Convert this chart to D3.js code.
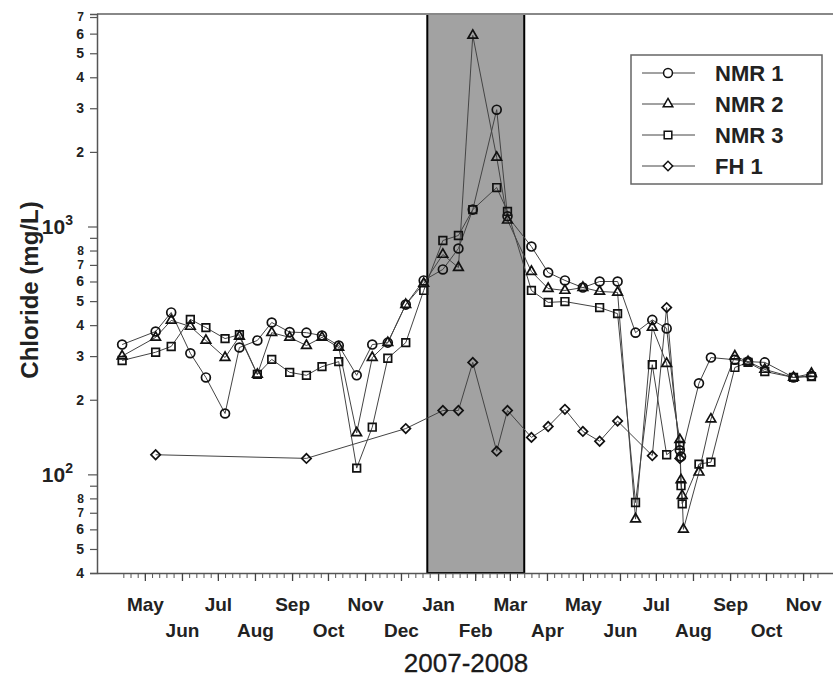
<!DOCTYPE html>
<html>
<head>
<meta charset="utf-8">
<script src="https://cdn.jsdelivr.net/npm/d3@7"></script>
<style>
  body { margin: 0; background: #fff; }
  svg { display: block; font-family: Arial, "Liberation Sans", sans-serif; }
</style>
</head>
<body>
<div id="chart"></div>
<script>
// Values (date, chloride mg/L)
const nmr1 = [
  ["2007-04-12", 334], ["2007-05-10", 377], ["2007-05-23", 450], ["2007-06-08", 308],
  ["2007-06-21", 246], ["2007-07-07", 176], ["2007-07-19", 325], ["2007-08-03", 347],
  ["2007-08-15", 410], ["2007-08-30", 375], ["2007-09-13", 373], ["2007-09-26", 363],
  ["2007-10-10", 331], ["2007-10-25", 251], ["2007-11-07", 334], ["2007-11-20", 340],
  ["2007-12-05", 484], ["2007-12-20", 606], ["2008-01-05", 671], ["2008-01-18", 815],
  ["2008-01-30", 1170], ["2008-02-19", 2960], ["2008-02-28", 1100], ["2008-03-19", 830],
  ["2008-04-02", 652], ["2008-04-16", 606], ["2008-05-01", 567], ["2008-05-15", 600],
  ["2008-05-30", 600], ["2008-06-14", 373], ["2008-06-28", 420], ["2008-07-10", 388],
  ["2008-07-21", 125], ["2008-07-22", 118], ["2008-08-06", 233], ["2008-08-16", 296],
  ["2008-09-05", 290], ["2008-09-16", 285], ["2008-09-30", 283], ["2008-10-24", 246],
  ["2008-11-08", 250]
];

const nmr2 = [
  ["2007-04-12", 300], ["2007-05-10", 357], ["2007-05-23", 418], ["2007-06-08", 395],
  ["2007-06-21", 347], ["2007-07-07", 296], ["2007-07-19", 360], ["2007-08-03", 253],
  ["2007-08-15", 373], ["2007-08-30", 357], ["2007-09-13", 331], ["2007-09-26", 357],
  ["2007-10-10", 325], ["2007-10-25", 147], ["2007-11-07", 296], ["2007-11-20", 340],
  ["2007-12-05", 484], ["2007-12-20", 589], ["2008-01-05", 771], ["2008-01-18", 683],
  ["2008-01-30", 5900], ["2008-02-19", 1900], ["2008-02-28", 1060], ["2008-03-19", 658],
  ["2008-04-02", 562], ["2008-04-16", 552], ["2008-05-01", 567], ["2008-05-15", 547],
  ["2008-05-30", 542], ["2008-06-14", 66], ["2008-06-28", 392], ["2008-07-10", 280],
  ["2008-07-21", 138], ["2008-07-22", 95], ["2008-07-23", 82], ["2008-07-24", 60],
  ["2008-08-06", 102], ["2008-08-16", 167], ["2008-09-05", 300], ["2008-09-16", 285],
  ["2008-09-30", 265], ["2008-10-24", 246], ["2008-11-08", 255]
];

const nmr3 = [
  ["2007-04-12", 288], ["2007-05-10", 311], ["2007-05-23", 328], ["2007-06-08", 422],
  ["2007-06-21", 391], ["2007-07-07", 353], ["2007-07-19", 366], ["2007-08-03", 253],
  ["2007-08-15", 291], ["2007-08-30", 258], ["2007-09-13", 251], ["2007-09-26", 272],
  ["2007-10-10", 285], ["2007-10-25", 106], ["2007-11-07", 155], ["2007-11-20", 294],
  ["2007-12-05", 340], ["2007-12-20", 552], ["2008-01-05", 878], ["2008-01-18", 920],
  ["2008-01-30", 1170], ["2008-02-19", 1436], ["2008-02-28", 1150], ["2008-03-19", 552],
  ["2008-04-02", 494], ["2008-04-16", 498], ["2008-05-15", 471], ["2008-05-30", 445],
  ["2008-06-14", 77], ["2008-06-28", 277], ["2008-07-10", 120], ["2008-07-21", 131],
  ["2008-07-22", 90], ["2008-07-23", 76], ["2008-08-06", 110], ["2008-08-16", 112],
  ["2008-09-05", 270], ["2008-09-16", 283], ["2008-09-30", 260], ["2008-10-24", 246],
  ["2008-11-08", 248]
];

const fh1 = [
  ["2007-05-10", 120], ["2007-09-13", 116], ["2007-12-05", 153], ["2008-01-05", 181],
  ["2008-01-18", 181], ["2008-01-30", 283], ["2008-02-19", 124], ["2008-02-28", 181],
  ["2008-03-19", 141], ["2008-04-02", 156], ["2008-04-16", 183], ["2008-05-01", 149],
  ["2008-05-15", 136], ["2008-05-30", 164], ["2008-06-28", 119], ["2008-07-10", 471],
  ["2008-07-21", 116]
];

const seriesNames = ["NMR 1", "NMR 2", "NMR 3", "FH 1"];
const seriesShapes = ["circle", "triangle", "square", "diamond"];

const monthLabels = ["May", "Jun", "Jul", "Aug", "Sep", "Oct", "Nov", "Dec", "Jan", "Feb",
  "Mar", "Apr", "May", "Jun", "Jul", "Aug", "Sep", "Oct", "Nov"];
const firstMonth = "2007-05-01";

const yTicks = [40, 50, 60, 70, 80, 90, 100, 200, 300, 400, 500, 600, 700, 800, 900,
  1000, 2000, 3000, 4000, 5000, 6000, 7000];
const yTickLabels = ["4", "5", "6", "7", "8", "", "10|2", "2", "3", "4", "5", "6", "7", "8", "",
  "10|3", "2", "3", "4", "5", "6", "7"];

const winter = ["2007-12-23", "2008-03-13"];

// ------------------------------------------------------------------
const width = 833, height = 679;
const margin = { top: 14, right: 0, bottom: 106, left: 97 };
const plotBottom = height - margin.bottom;
const parse = d3.timeParse("%Y-%m-%d");

const x = d3.scaleTime()
  .domain([new Date(2007, 2, 22), new Date(2008, 10, 26)])
  .range([margin.left, width - margin.right]);

const y = d3.scaleLog()
  .domain([40, 7200])
  .range([plotBottom, margin.top]);

const svg = d3.select("#chart").append("svg")
  .attr("width", width)
  .attr("height", height);

// shaded winter period
svg.append("rect")
  .attr("x", x(parse(winter[0])))
  .attr("y", margin.top)
  .attr("width", x(parse(winter[1])) - x(parse(winter[0])))
  .attr("height", plotBottom - margin.top)
  .attr("fill", "#a2a2a2")
  .attr("stroke", "#000")
  .attr("stroke-width", 2);

function symbolPath(shape) {
  if (shape === "circle") return d3.symbol(d3.symbolCircle, 62)();
  if (shape === "triangle") return d3.symbol(d3.symbolTriangle, 40)();
  if (shape === "square") return d3.symbol(d3.symbolSquare, 58)();
  return d3.symbol(d3.symbolSquare, 44)();
}

const allSeries = [nmr1, nmr2, nmr3, fh1].map((s, i) => ({
  name: seriesNames[i],
  shape: seriesShapes[i],
  values: s.map(([d, v]) => ({ date: parse(d), value: v }))
}));

const line = d3.line()
  .x(d => x(d.date))
  .y(d => y(d.value));

// draw lines first, markers on top
allSeries.forEach(s => {
  svg.append("path")
    .datum(s.values)
    .attr("fill", "none")
    .attr("stroke", "#444")
    .attr("stroke-width", 1)
    .attr("d", line);
});

allSeries.forEach(s => {
  svg.append("g")
    .selectAll("path")
    .data(s.values)
    .join("path")
    .attr("d", symbolPath(s.shape))
    .attr("transform", d => `translate(${x(d.date)},${y(d.value)})` + (s.shape === "diamond" ? " rotate(45)" : ""))
    .attr("fill", "none")
    .attr("stroke", "#111")
    .attr("stroke-width", 1.7);
});

// frame top line
svg.append("line")
  .attr("x1", margin.left).attr("x2", width)
  .attr("y1", margin.top).attr("y2", margin.top)
  .attr("stroke", "#888")
  .attr("stroke-width", 2);

// y axis
const yAxis = svg.append("g")
  .attr("transform", `translate(${margin.left},0)`)
  .call(d3.axisLeft(y).tickValues(yTicks).tickSizeOuter(0).tickSize(7)
    .tickFormat((d, i) => yTickLabels[i]));

yAxis.select(".domain").attr("stroke", "#555").attr("stroke-width", 1.5);
yAxis.selectAll(".tick line").attr("stroke", "#555").attr("stroke-width", 1.2)
  .attr("x2", (d, i) => yTickLabels[i].includes("|") ? -9 : -7);
yAxis.selectAll(".tick text")
  .attr("x", -13)
  .attr("font-size", (d, i) => (yTickLabels[i] === "8" || yTickLabels[i] === "7") ? 12 : 14)
  .attr("font-weight", "bold")
  .attr("fill", "#222")
  .each(function (d, i) {
    const lbl = yTickLabels[i];
    if (lbl.includes("|")) {
      const [base, exp] = lbl.split("|");
      const t = d3.select(this).text("").attr("font-size", 21).attr("x", -24);
      t.append("tspan").text(base);
      t.append("tspan").text(exp).attr("font-size", 14).attr("dy", "-0.6em");
    }
  });

// x axis: minor ticks
const minorTicks = [];
d3.timeMonth.range(new Date(2007, 3, 1), new Date(2008, 11, 1)).forEach(m => {
  [1, 7, 13, 19, 25].forEach(day => {
    const t = new Date(m.getFullYear(), m.getMonth(), day);
    if (t >= new Date(2007, 3, 13) && t <= new Date(2008, 10, 13)) minorTicks.push(t);
  });
});

const xMinor = svg.append("g")
  .attr("transform", `translate(0,${plotBottom})`)
  .call(d3.axisBottom(x).tickValues(minorTicks).tickSize(5).tickSizeOuter(0).tickFormat(""));
xMinor.select(".domain").attr("stroke", "#555").attr("stroke-width", 1.5);
xMinor.selectAll(".tick line").attr("stroke", "#555");

// x axis: month ticks + labels
const monthTicks = monthLabels.map((m, i) => d3.timeMonth.offset(parse(firstMonth), i));
const xMajor = svg.append("g")
  .attr("transform", `translate(0,${plotBottom})`)
  .call(d3.axisBottom(x).tickValues(monthTicks).tickSize(8).tickSizeOuter(0)
    .tickFormat((d, i) => monthLabels[i]));
xMajor.select(".domain").remove();
xMajor.selectAll(".tick line").attr("stroke", "#444").attr("stroke-width", 1.3);
xMajor.selectAll(".tick text")
  .attr("font-size", 19)
  .attr("font-weight", "bold")
  .attr("fill", "#222")
  .attr("dy", 0)
  .attr("y", (d, i) => i % 2 === 0 ? 38 : 64);

// axis titles
svg.append("text")
  .attr("x", 466).attr("y", 672)
  .attr("text-anchor", "middle")
  .attr("font-size", 26)
  .attr("fill", "#1a1a1a")
  .attr("stroke", "#1a1a1a")
  .attr("stroke-width", 0.3)
  .text("2007-2008");

svg.append("text")
  .attr("transform", "translate(38,290) rotate(-90)")
  .attr("text-anchor", "middle")
  .attr("font-size", 24)
  .attr("font-weight", "bold")
  .attr("fill", "#222")
  .text("Chloride (mg/L)");

// legend
const legend = svg.append("g");
legend.append("rect")
  .attr("x", 631).attr("y", 55)
  .attr("width", 191).attr("height", 129)
  .attr("fill", "#fff")
  .attr("stroke", "#666")
  .attr("stroke-width", 1.5);

allSeries.forEach((s, i) => {
  const ly = 73 + i * 31;
  legend.append("line")
    .attr("x1", 642).attr("x2", 695)
    .attr("y1", ly).attr("y2", ly)
    .attr("stroke", "#444");
  legend.append("path")
    .attr("d", symbolPath(s.shape))
    .attr("transform", `translate(668,${ly})` + (s.shape === "diamond" ? " rotate(45)" : ""))
    .attr("fill", "#fff")
    .attr("stroke", "#111")
    .attr("stroke-width", 1.5);
  legend.append("text")
    .attr("x", 715).attr("y", ly + 8)
    .attr("font-size", 22)
    .attr("font-weight", "bold")
    .attr("fill", "#222")
    .text(s.name);
});
</script>
</body>
</html>
